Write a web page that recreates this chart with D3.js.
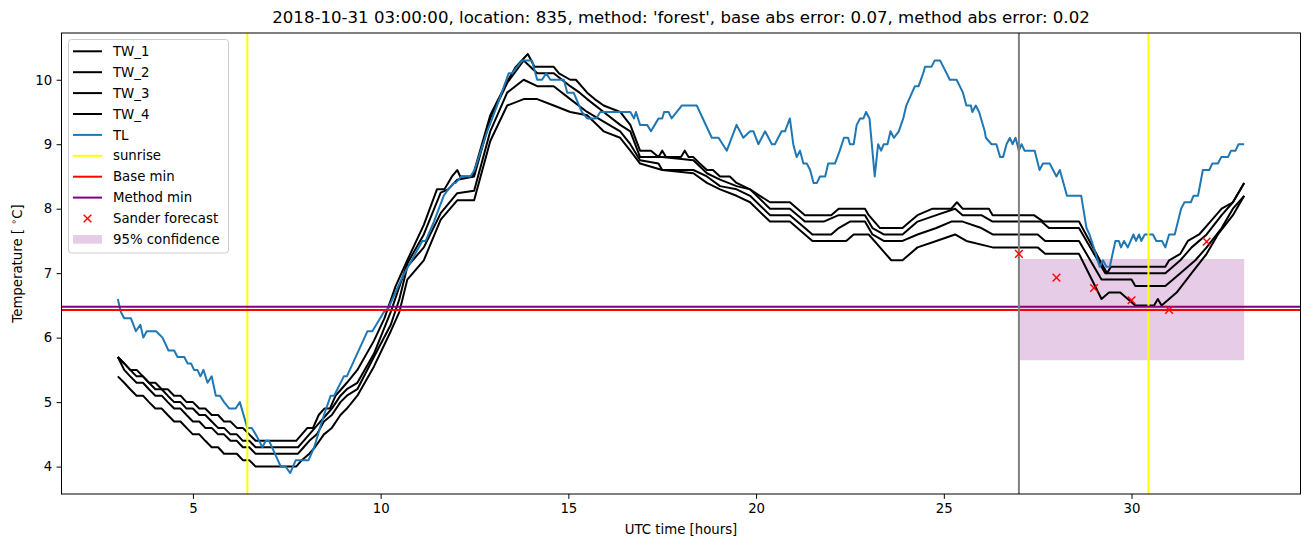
<!DOCTYPE html>
<html><head><meta charset="utf-8">
<script src="https://cdn.jsdelivr.net/npm/d3@7"></script>
<style>body{margin:0;background:#fff} text{font-family:'DejaVu Sans',sans-serif}</style>
</head><body><svg id="c" width="1310" height="547"></svg>
<script>
// ---- data (hour, temperature) ----
const TW_1 = [[3.0,5.7],[3.17,5.6],[3.33,5.5],[3.5,5.5],[3.67,5.4],[3.83,5.3],[4.0,5.3],[4.17,5.2],[4.33,5.2],[4.5,5.1],[4.67,5.1],[4.83,5.0],[5.0,5.0],[5.17,4.9],[5.33,4.9],[5.5,4.8],[5.67,4.8],[5.83,4.7],[6.0,4.7],[6.17,4.6],[6.33,4.6],[6.5,4.5],[6.67,4.4],[7.75,4.4],[7.9,4.5],[8.05,4.6],[8.2,4.6],[8.35,4.8],[8.5,4.9],[8.65,4.9],[8.8,5.1],[8.95,5.2],[9.1,5.3],[9.38,5.5],[9.82,5.95],[10.1,6.3],[10.4,6.8],[10.71,7.2],[11.15,7.75],[11.5,8.3],[11.7,8.3],[11.9,8.5],[12.04,8.6],[12.12,8.5],[12.45,8.5],[12.6,8.8],[12.92,9.45],[13.37,9.97],[13.6,10.2],[13.92,10.4],[14.1,10.2],[14.61,10.2],[14.75,10.1],[15.05,10.0],[15.2,10.0],[15.5,9.8],[15.7,9.7],[15.94,9.6],[16.38,9.5],[16.65,9.3],[16.91,8.9],[17.2,8.9],[17.4,8.8],[17.5,8.9],[17.6,8.8],[18.0,8.8],[18.1,8.9],[18.2,8.8],[18.33,8.8],[18.5,8.7],[18.69,8.6],[18.85,8.6],[19.04,8.5],[19.3,8.5],[19.48,8.4],[19.84,8.3],[20.1,8.2],[20.37,8.1],[20.9,8.1],[21.1,8.0],[21.3,7.9],[22.0,7.9],[22.2,8.0],[22.9,8.0],[23.0,7.9],[23.3,7.7],[23.9,7.7],[24.1,7.8],[24.3,7.9],[24.7,8.0],[25.2,8.0],[25.35,8.1],[25.5,8.0],[26.2,8.0],[26.3,7.9],[27.4,7.9],[27.65,7.8],[28.6,7.8],[29.25,7.1],[29.35,7.0],[29.45,7.1],[30.9,7.1],[31.0,7.2],[31.3,7.3],[31.5,7.5],[31.8,7.6],[32.1,7.8],[32.4,8.0],[32.7,8.1],[33.0,8.4]];
const TW_2 = [[3.0,5.7],[3.17,5.6],[3.33,5.5],[3.5,5.4],[3.67,5.4],[3.83,5.3],[4.0,5.2],[4.17,5.2],[4.33,5.1],[4.5,5.0],[4.67,5.0],[4.83,4.9],[5.0,4.9],[5.17,4.8],[5.33,4.8],[5.5,4.7],[5.67,4.6],[5.83,4.6],[6.0,4.5],[6.17,4.5],[6.33,4.4],[6.5,4.4],[6.67,4.3],[7.8,4.3],[7.95,4.4],[8.1,4.5],[8.25,4.6],[8.4,4.7],[8.55,4.8],[8.7,4.9],[8.93,5.1],[9.1,5.2],[9.38,5.3],[9.82,5.75],[10.27,6.4],[10.71,7.15],[11.15,7.6],[11.6,8.25],[11.8,8.3],[12.04,8.45],[12.49,8.5],[12.92,9.4],[13.37,9.95],[13.81,10.3],[14.17,10.1],[14.61,10.1],[15.05,9.9],[15.3,9.8],[15.5,9.7],[15.94,9.5],[16.38,9.3],[16.65,9.2],[16.91,8.8],[17.5,8.8],[18.33,8.75],[18.69,8.55],[19.04,8.45],[19.48,8.35],[19.84,8.3],[20.37,8.0],[20.9,8.0],[21.3,7.8],[21.8,7.8],[22.2,7.9],[22.9,7.9],[23.1,7.7],[23.4,7.6],[23.9,7.6],[24.3,7.8],[24.8,7.9],[25.3,8.0],[25.5,7.9],[26.0,7.9],[26.3,7.8],[27.6,7.8],[27.8,7.7],[28.6,7.7],[29.3,7.0],[30.9,7.0],[31.3,7.2],[31.6,7.4],[32.0,7.6],[32.4,7.9],[32.7,8.1],[33.0,8.4]];
const TW_3 = [[3.0,5.7],[3.17,5.5],[3.33,5.4],[3.5,5.3],[3.67,5.3],[3.83,5.2],[4.0,5.1],[4.17,5.1],[4.33,5.0],[4.5,4.9],[4.67,4.9],[4.83,4.8],[5.0,4.7],[5.17,4.7],[5.33,4.6],[5.5,4.6],[5.67,4.5],[5.83,4.5],[6.0,4.4],[6.17,4.4],[6.33,4.3],[6.5,4.3],[6.67,4.2],[7.8,4.2],[7.95,4.3],[8.1,4.4],[8.3,4.5],[8.49,4.7],[8.7,4.8],[8.93,5.0],[9.1,5.1],[9.38,5.2],[9.82,5.7],[10.27,6.2],[10.5,6.6],[10.71,7.1],[11.15,7.4],[11.6,7.93],[12.04,8.24],[12.49,8.28],[12.92,9.2],[13.37,9.8],[13.81,10.0],[14.17,9.9],[14.61,9.9],[15.05,9.7],[15.5,9.5],[15.94,9.35],[16.38,9.2],[16.65,9.0],[16.91,8.75],[17.4,8.7],[17.5,8.6],[18.33,8.6],[18.69,8.5],[19.04,8.35],[19.48,8.3],[19.84,8.2],[20.37,7.9],[20.9,7.9],[21.3,7.7],[21.5,7.6],[22.0,7.6],[22.2,7.7],[22.5,7.8],[22.9,7.8],[23.1,7.6],[23.4,7.5],[23.9,7.5],[24.3,7.6],[24.8,7.7],[25.2,7.8],[25.5,7.8],[26.0,7.7],[26.3,7.6],[27.5,7.6],[27.7,7.5],[28.6,7.5],[29.2,6.9],[30.0,6.9],[30.1,6.8],[30.9,6.8],[31.3,7.0],[31.7,7.2],[32.0,7.4],[32.4,7.7],[32.7,8.0],[33.0,8.2]];
const TW_4 = [[3.0,5.4],[3.17,5.3],[3.33,5.2],[3.5,5.1],[3.67,5.1],[3.83,5.0],[4.0,4.9],[4.17,4.9],[4.33,4.8],[4.5,4.7],[4.67,4.7],[4.83,4.6],[5.0,4.5],[5.17,4.5],[5.33,4.4],[5.5,4.3],[5.67,4.3],[5.83,4.2],[6.17,4.2],[6.33,4.1],[6.5,4.1],[6.67,4.0],[7.75,4.0],[7.9,4.1],[8.1,4.2],[8.25,4.3],[8.49,4.5],[8.7,4.6],[8.93,4.8],[9.1,4.9],[9.38,5.1],[9.82,5.55],[10.27,6.1],[10.5,6.4],[10.71,6.9],[11.15,7.2],[11.6,7.83],[12.04,8.13],[12.49,8.13],[12.92,9.05],[13.37,9.6],[13.81,9.7],[14.17,9.7],[14.61,9.6],[15.05,9.5],[15.5,9.45],[15.94,9.2],[16.38,9.1],[16.65,8.9],[16.91,8.7],[17.5,8.6],[18.33,8.55],[18.69,8.4],[19.04,8.3],[19.48,8.2],[19.84,8.1],[20.37,7.8],[20.9,7.8],[21.3,7.6],[21.5,7.5],[22.4,7.5],[22.6,7.6],[23.0,7.6],[23.3,7.4],[23.6,7.2],[23.9,7.2],[24.3,7.4],[24.8,7.5],[25.3,7.6],[25.6,7.5],[26.3,7.4],[27.5,7.4],[27.7,7.3],[28.6,7.3],[29.2,6.6],[29.4,6.7],[29.7,6.7],[29.9,6.6],[30.1,6.5],[30.6,6.5],[30.7,6.6],[30.8,6.5],[31.2,6.7],[31.6,7.0],[32.0,7.3],[32.3,7.6],[32.7,7.9],[33.0,8.2]];
const TL = [[3.0,6.6],[3.08,6.4],[3.17,6.3],[3.35,6.3],[3.48,6.1],[3.6,6.2],[3.68,6.0],[3.77,6.1],[4.02,6.1],[4.19,6.0],[4.35,5.8],[4.5,5.8],[4.59,5.7],[4.77,5.7],[4.86,5.6],[4.95,5.6],[5.03,5.5],[5.12,5.5],[5.2,5.4],[5.28,5.5],[5.39,5.3],[5.5,5.4],[5.61,5.1],[5.72,5.1],[5.83,5.0],[5.97,4.9],[6.14,4.9],[6.25,5.0],[6.45,4.6],[6.57,4.6],[6.72,4.45],[6.85,4.3],[6.94,4.4],[7.03,4.4],[7.34,4.0],[7.47,4.0],[7.59,3.9],[7.74,4.1],[8.08,4.1],[8.23,4.3],[8.49,4.8],[8.67,5.1],[8.76,5.1],[9.02,5.4],[9.1,5.4],[9.65,6.1],[9.78,6.1],[10.09,6.4],[10.2,6.45],[10.58,6.94],[11.11,7.5],[11.2,7.5],[11.42,7.8],[11.68,8.2],[11.8,8.3],[11.95,8.4],[12.0,8.4],[12.15,8.5],[12.39,8.5],[12.5,8.6],[12.84,9.2],[13.1,9.6],[13.41,10.1],[13.5,10.1],[13.77,10.3],[14.03,10.3],[14.17,10.0],[14.3,10.0],[14.41,10.1],[14.52,10.0],[14.88,10.0],[14.97,9.8],[15.14,9.8],[15.36,9.5],[15.5,9.4],[15.74,9.4],[15.85,9.5],[16.65,9.5],[16.75,9.4],[16.8,9.5],[16.91,9.3],[17.1,9.3],[17.2,9.2],[17.3,9.3],[17.4,9.4],[17.5,9.4],[17.55,9.5],[17.67,9.5],[17.75,9.4],[18.02,9.6],[18.42,9.6],[18.82,9.1],[19.0,9.1],[19.22,8.9],[19.48,9.3],[19.66,9.1],[19.84,9.2],[19.93,9.2],[20.06,9.0],[20.24,9.2],[20.42,9.0],[20.5,9.0],[20.68,9.2],[20.77,9.2],[20.9,9.4],[20.99,9.0],[21.08,8.8],[21.17,8.9],[21.26,8.7],[21.35,8.7],[21.44,8.6],[21.53,8.4],[21.62,8.4],[21.7,8.5],[21.84,8.5],[21.92,8.7],[22.1,8.7],[22.23,8.9],[22.34,9.1],[22.45,9.1],[22.5,9.0],[22.6,9.0],[22.68,9.3],[22.77,9.4],[22.86,9.4],[22.93,9.5],[23.02,9.4],[23.16,8.5],[23.25,9.0],[23.33,8.9],[23.4,9.0],[23.5,9.0],[23.58,9.2],[23.67,9.1],[23.8,9.2],[23.92,9.4],[24.0,9.6],[24.23,9.9],[24.33,9.9],[24.45,10.1],[24.5,10.2],[24.67,10.2],[24.76,10.3],[24.9,10.3],[25.16,10.0],[25.34,10.0],[25.51,9.8],[25.6,9.6],[25.72,9.6],[25.76,9.5],[25.85,9.6],[25.94,9.5],[26.09,9.2],[26.12,9.1],[26.27,9.0],[26.4,9.0],[26.5,8.8],[26.58,8.8],[26.67,9.0],[26.76,9.1],[26.83,9.0],[26.91,9.1],[27.0,8.9],[27.07,9.0],[27.15,8.9],[27.42,8.9],[27.55,8.6],[27.64,8.7],[27.82,8.7],[28.0,8.5],[28.09,8.6],[28.28,8.2],[28.66,8.2],[28.8,7.7],[28.88,7.6],[29.02,7.35],[29.15,7.1],[29.24,7.2],[29.33,7.1],[29.42,7.1],[29.57,7.5],[29.66,7.5],[29.72,7.4],[29.8,7.5],[29.9,7.4],[30.05,7.6],[30.12,7.5],[30.2,7.6],[30.26,7.5],[30.35,7.6],[30.57,7.6],[30.66,7.5],[30.81,7.5],[30.9,7.4],[31.0,7.6],[31.15,7.6],[31.32,8.0],[31.41,8.1],[31.58,8.1],[31.65,8.2],[31.77,8.2],[31.9,8.6],[32.07,8.6],[32.15,8.7],[32.3,8.7],[32.39,8.8],[32.57,8.8],[32.65,8.9],[32.77,8.9],[32.85,9.0],[33.0,9.0]];
const sunriseHours = [6.45, 30.45];
const forecastStart = 27.0;
const baseMin = 6.43;
const methodMin = 6.48;
const sanderHours = [27, 28, 29, 30, 31, 32];
const sanderTemps = [7.30, 6.93, 6.77, 6.58, 6.43, 7.49];
const confHours = [27.0, 33.0];
const confTemps = [5.65, 7.22];
const xTicks = [5, 10, 15, 20, 25, 30];
const yTicks = [4, 5, 6, 7, 8, 9, 10];
const legendLabels = ['TW_1','TW_2','TW_3','TW_4','TL','sunrise','Base min','Method min','Sander forecast','95% confidence'];
const title = "2018-10-31 03:00:00, location: 835, method: 'forest', base abs error: 0.07, method abs error: 0.02";

// ---- drawing ----
const svg = d3.select('#c');
const M = {l:61.5, r:1300.5, t:33, b:494};
const x = d3.scaleLinear().domain([1.5, 34.5]).range([M.l, M.r]);
const y = d3.scaleLinear().domain([3.575, 10.725]).range([M.b, M.t]);
const LW = 2;

svg.append('defs').append('clipPath').attr('id','clip').append('rect')
  .attr('x', M.l).attr('y', M.t).attr('width', M.r - M.l).attr('height', M.b - M.t);
const g = svg.append('g').attr('clip-path','url(#clip)');

// confidence band
g.append('rect').attr('x', x(confHours[0])).attr('width', x(confHours[1]) - x(confHours[0]))
  .attr('y', y(confTemps[1])).attr('height', y(confTemps[0]) - y(confTemps[1]))
  .attr('fill', 'purple').attr('fill-opacity', 0.2);

const line = d3.line().x(d => x(d[0])).y(d => y(d[1]));
[TW_1, TW_2, TW_3, TW_4].forEach(s => {
  g.append('path').datum(s).attr('d', line).attr('fill','none').attr('stroke','#000')
    .attr('stroke-width',LW).attr('stroke-linejoin','round');
});
g.append('path').datum(TL).attr('d', line).attr('fill','none').attr('stroke','#1f77b4')
  .attr('stroke-width',LW).attr('stroke-linejoin','round');

sunriseHours.forEach(h => g.append('line').attr('x1', x(h)).attr('x2', x(h)).attr('y1', M.t).attr('y2', M.b)
  .attr('stroke', '#ffff00').attr('stroke-width', LW));
g.append('line').attr('x1', M.l).attr('x2', M.r).attr('y1', y(baseMin)).attr('y2', y(baseMin))
  .attr('stroke', 'red').attr('stroke-width', LW);
g.append('line').attr('x1', M.l).attr('x2', M.r).attr('y1', y(methodMin)).attr('y2', y(methodMin))
  .attr('stroke', 'purple').attr('stroke-width', LW);
g.append('line').attr('x1', x(forecastStart)).attr('x2', x(forecastStart)).attr('y1', M.t).attr('y2', M.b)
  .attr('stroke', 'grey').attr('stroke-width', LW);

const cross = d3.symbol().type(d3.symbolX).size(40);
sanderHours.forEach((h, i) => {
  g.append('path').attr('d', cross).attr('transform', `translate(${x(h)},${y(sanderTemps[i])})`)
    .attr('fill','none').attr('stroke','red').attr('stroke-width',1.4);
});

// axes
const xAxis = svg.append('g').attr('transform', `translate(0,${M.b})`)
  .call(d3.axisBottom(x).tickValues(xTicks).tickSize(4.9).tickPadding(4.5).tickFormat(d3.format('d')));
const yAxis = svg.append('g').attr('transform', `translate(${M.l},0)`)
  .call(d3.axisLeft(y).tickValues(yTicks).tickSize(4.9).tickPadding(4.5).tickFormat(d3.format('d')));
[xAxis, yAxis].forEach(a => {
  a.selectAll('.domain').remove();
  a.selectAll('text').attr('font-size', 13.3).attr('font-family', 'DejaVu Sans').attr('fill', '#000');
  a.selectAll('line').attr('stroke', '#000').attr('stroke-width', 1);
});
svg.append('rect').attr('x', M.l).attr('y', M.t).attr('width', M.r - M.l).attr('height', M.b - M.t)
  .attr('fill','none').attr('stroke','#000').attr('stroke-width',1);

svg.append('text').attr('x', (M.l + M.r)/2).attr('y', 534).attr('text-anchor','middle')
  .attr('font-size', 13.3).text('UTC time [hours]');
const yl = svg.append('text').attr('transform', `translate(22,${(M.t + M.b)/2}) rotate(-90)`)
  .attr('text-anchor','middle').attr('font-size', 13.3);
yl.append('tspan').text('Temperature [ ');
yl.append('tspan').attr('font-size', 9.5).attr('dy', -5).text('∘');
yl.append('tspan').attr('dy', 5).text('C]');

svg.append('text').attr('x', (M.l + M.r)/2).attr('y', 23).attr('text-anchor','middle')
  .attr('font-size', 16.6).text(title);

// legend
const L = svg.append('g');
L.append('rect').attr('x', 68.5).attr('y', 39.5).attr('width', 160).attr('height', 213.5).attr('rx', 3)
  .attr('fill', 'white').attr('fill-opacity', 0.8).attr('stroke', '#cccccc').attr('stroke-width', 1);
const styles = [
  {t:'line', c:'#000'},{t:'line', c:'#000'},{t:'line', c:'#000'},{t:'line', c:'#000'},
  {t:'line', c:'#1f77b4'},{t:'line', c:'#ffff00'},{t:'line', c:'red'},{t:'line', c:'purple'},
  {t:'x', c:'red'},{t:'patch', c:'purple'}
];
legendLabels.forEach((lab, i) => {
  const cy = 51.3 + i * 20.9;
  const s = styles[i];
  if (s.t === 'line') {
    L.append('line').attr('x1', 73).attr('x2', 102).attr('y1', cy).attr('y2', cy)
      .attr('stroke', s.c).attr('stroke-width', LW);
  } else if (s.t === 'x') {
    L.append('path').attr('d', cross).attr('transform', `translate(87.5,${cy})`)
      .attr('fill','none').attr('stroke', s.c).attr('stroke-width', 1.4);
  } else {
    L.append('rect').attr('x', 73).attr('y', cy - 4.3).attr('width', 29).attr('height', 8.6)
      .attr('fill', s.c).attr('fill-opacity', 0.2);
  }
  L.append('text').attr('x', 113).attr('y', cy).attr('dy', '0.35em').attr('font-size', 13.3).text(lab);
});
</script></body></html>
